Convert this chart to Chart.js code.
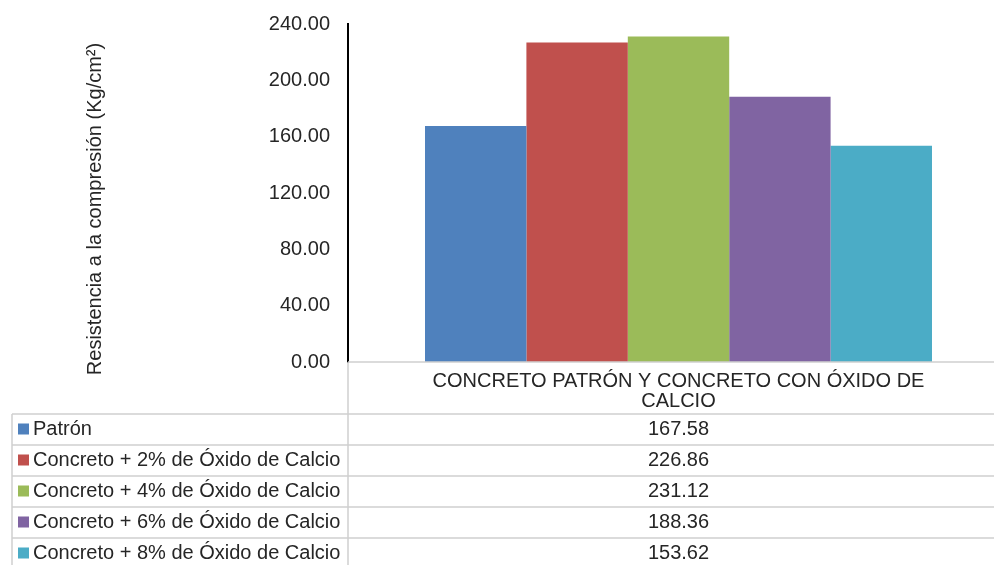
<!DOCTYPE html>
<html>
<head>
<meta charset="utf-8">
<script src="https://cdn.jsdelivr.net/npm/chart.js@4.4.1/dist/chart.umd.min.js"></script>
<style>
    html, body { margin: 0; padding: 0; background: #fff; overflow: hidden; }
    #wrap { width: 1009px; height: 565px; }
</style>
</head>
<body>
<div id="wrap"><canvas id="chart" width="1009" height="565"></canvas></div>
<script>
// data
var categories = [['CONCRETO PATRÓN Y CONCRETO CON ÓXIDO DE', 'CALCIO']];
var seriesNames = [
    'Patrón',
    'Concreto + 2% de Óxido de Calcio',
    'Concreto + 4% de Óxido de Calcio',
    'Concreto + 6% de Óxido de Calcio',
    'Concreto + 8% de Óxido de Calcio'
];
var seriesValues = [167.58, 226.86, 231.12, 188.36, 153.62];
var seriesColors = ['#4F81BD', '#C0504D', '#9BBB59', '#8064A2', '#4BACC6'];
var yTicks = [0, 40, 80, 120, 160, 200, 240];
var yTitle = 'Resistencia a la compresión (Kg/cm²)';

var FONT = 'Arial, "Liberation Sans", sans-serif';
var TEXT = '#262626';
var LINE = '#d0d0d0';

var datasets = [];
for (var i = 0; i < seriesNames.length; i++) {
    datasets.push({
        label: seriesNames[i],
        data: [seriesValues[i]],
        backgroundColor: seriesColors[i],
        borderWidth: 0
    });
}

// draws the y title and the data table under the plot
var tablePlugin = {
    id: 'dataTable',
    afterDraw: function (chart) {
        var ctx = chart.ctx;
        var x = chart.scales.x;
        var y = chart.scales.y;
        var top = y.bottom;
        var headerH = 52;
        var rowH = 31;
        var tableLeft = 12;
        var right = chart.width;
        var bottom = chart.height;
        var cx = x.getPixelForValue(0);

        ctx.save();

        // y title
        ctx.fillStyle = TEXT;
        ctx.font = '20px ' + FONT;
        ctx.translate(95, 209);
        ctx.rotate(-Math.PI / 2);
        ctx.textAlign = 'center';
        ctx.textBaseline = 'middle';
        ctx.fillText(yTitle, 0, 0);
        ctx.setTransform(1, 0, 0, 1, 0, 0);

        // grid lines
        ctx.strokeStyle = LINE;
        ctx.lineWidth = 1.5;
        ctx.beginPath();
        ctx.moveTo(x.left, top);
        ctx.lineTo(right, top);
        ctx.moveTo(x.left, top);
        ctx.lineTo(x.left, bottom);
        ctx.moveTo(tableLeft, top + headerH);
        ctx.lineTo(tableLeft, bottom);
        for (var r = 0; r < seriesNames.length; r++) {
            var ly = top + headerH + r * rowH;
            ctx.moveTo(tableLeft, ly);
            ctx.lineTo(right, ly);
        }
        ctx.stroke();

        // category header
        ctx.fillStyle = TEXT;
        ctx.font = '20px ' + FONT;
        ctx.textAlign = 'center';
        ctx.textBaseline = 'middle';
        var lines = categories[0];
        for (var l = 0; l < lines.length; l++) {
            ctx.fillText(lines[l], cx, top + 19 + l * 20);
        }

        // rows
        for (var k = 0; k < seriesNames.length; k++) {
            var my = top + headerH + k * rowH + rowH / 2;
            ctx.fillStyle = seriesColors[k];
            ctx.fillRect(18, my - 6, 11, 11);
            ctx.fillStyle = TEXT;
            ctx.textAlign = 'left';
            ctx.fillText(seriesNames[k], 33, my);
            ctx.textAlign = 'center';
            ctx.fillText(seriesValues[k].toFixed(2), cx, my);
        }
        ctx.restore();
    }
};

new Chart(document.getElementById('chart').getContext('2d'), {
    type: 'bar',
    data: {
        labels: categories,
        datasets: datasets
    },
    options: {
        responsive: false,
        animation: false,
        devicePixelRatio: 1,
        layout: {
            padding: { top: 24, bottom: 203, left: 0, right: 0 }
        },
        datasets: {
            bar: { categoryPercentage: 0.767, barPercentage: 1 }
        },
        plugins: {
            legend: { display: false },
            tooltip: { enabled: false }
        },
        scales: {
            x: { display: false },
            y: {
                min: yTicks[0],
                max: yTicks[yTicks.length - 1],
                afterFit: function (scale) {
                    scale.width = 348;
                    scale.paddingTop = 0;
                    scale.paddingBottom = 0;
                },
                afterBuildTicks: function (scale) {
                    scale.ticks = yTicks.map(function (v) { return { value: v }; });
                },
                ticks: {
                    padding: 18,
                    color: TEXT,
                    font: { size: 20, family: FONT },
                    callback: function (v) { return Number(v).toFixed(2); }
                },
                grid: { display: false, drawTicks: false },
                border: { display: true, color: '#000', width: 2 }
            }
        }
    },
    plugins: [tablePlugin]
});
</script>
</body>
</html>
